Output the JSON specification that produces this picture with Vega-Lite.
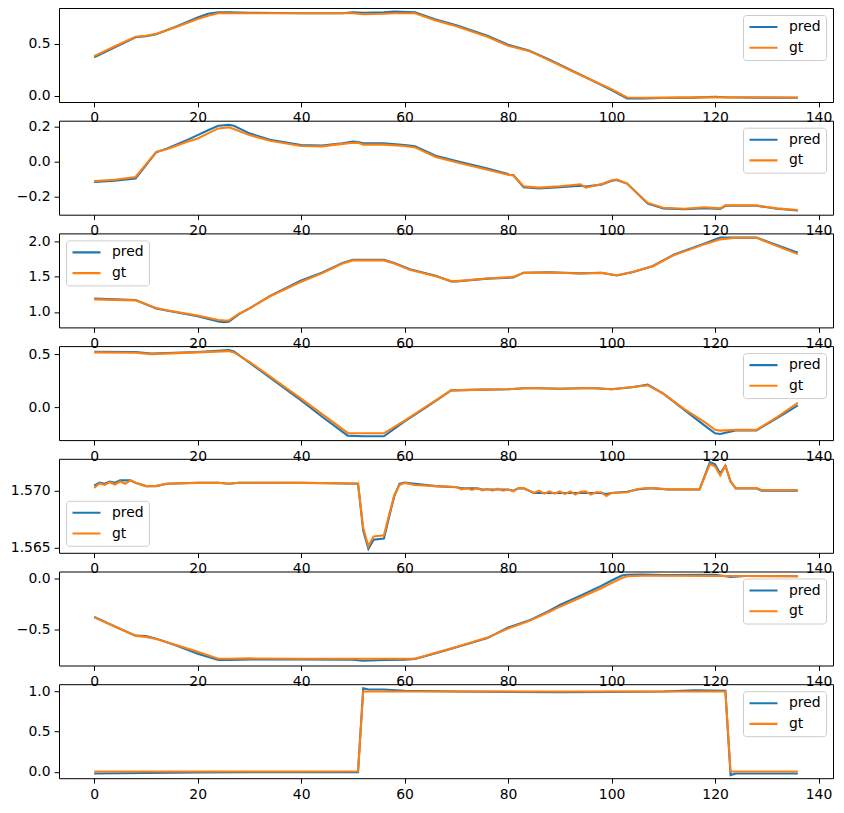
{
"$schema": "https://vega.github.io/schema/vega-lite/v6.json",
"background": "white",
"padding": {"left": 9, "top": 7, "right": 5, "bottom": 5},
"datasets": {
"p1": [
{"x":0,"pred":0.37,"gt":0.38},{"x":4,"pred":0.465,"gt":0.475},{"x":8,"pred":0.56,"gt":0.565},{"x":10,"pred":0.57,"gt":0.575},{"x":12,"pred":0.59,"gt":0.595},{"x":16,"pred":0.665,"gt":0.66},{"x":20,"pred":0.75,"gt":0.735},{"x":22,"pred":0.785,"gt":0.765},{"x":24,"pred":0.8,"gt":0.79},{"x":26,"pred":0.8,"gt":0.79},{"x":30,"pred":0.795,"gt":0.79},{"x":40,"pred":0.79,"gt":0.79},{"x":48,"pred":0.79,"gt":0.79},{"x":50,"pred":0.8,"gt":0.79},{"x":52,"pred":0.795,"gt":0.78},{"x":56,"pred":0.8,"gt":0.785},{"x":58,"pred":0.805,"gt":0.79},{"x":62,"pred":0.8,"gt":0.79},{"x":66,"pred":0.73,"gt":0.72},{"x":70,"pred":0.675,"gt":0.665},{"x":76,"pred":0.575,"gt":0.565},{"x":80,"pred":0.49,"gt":0.48},{"x":84,"pred":0.435,"gt":0.43},{"x":88,"pred":0.345,"gt":0.34},{"x":92,"pred":0.25,"gt":0.245},{"x":96,"pred":0.155,"gt":0.155},{"x":100,"pred":0.055,"gt":0.065},{"x":103,"pred":-0.025,"gt":-0.015},{"x":106,"pred":-0.025,"gt":-0.018},{"x":110,"pred":-0.02,"gt":-0.016},{"x":116,"pred":-0.016,"gt":-0.014},{"x":120,"pred":-0.008,"gt":-0.012},{"x":122,"pred":-0.013,"gt":-0.014},{"x":128,"pred":-0.016,"gt":-0.015},{"x":136,"pred":-0.018,"gt":-0.015}
],
"p2": [
{"x":0,"pred":-0.114,"gt":-0.109},{"x":4,"pred":-0.108,"gt":-0.102},{"x":8,"pred":-0.095,"gt":-0.086},{"x":12,"pred":0.055,"gt":0.057},{"x":14,"pred":0.075,"gt":0.072},{"x":18,"pred":0.125,"gt":0.114},{"x":20,"pred":0.152,"gt":0.133},{"x":22,"pred":0.18,"gt":0.162},{"x":24,"pred":0.205,"gt":0.19},{"x":26,"pred":0.21,"gt":0.196},{"x":27,"pred":0.205,"gt":0.187},{"x":30,"pred":0.162,"gt":0.152},{"x":34,"pred":0.125,"gt":0.12},{"x":40,"pred":0.095,"gt":0.09},{"x":44,"pred":0.092,"gt":0.088},{"x":48,"pred":0.105,"gt":0.102},{"x":50,"pred":0.115,"gt":0.108},{"x":51,"pred":0.113,"gt":0.108},{"x":52,"pred":0.105,"gt":0.098},{"x":56,"pred":0.105,"gt":0.098},{"x":60,"pred":0.095,"gt":0.09},{"x":62,"pred":0.088,"gt":0.082},{"x":66,"pred":0.035,"gt":0.028},{"x":70,"pred":0.005,"gt":-0.002},{"x":76,"pred":-0.038,"gt":-0.045},{"x":80,"pred":-0.07,"gt":-0.073},{"x":81,"pred":-0.075,"gt":-0.078},{"x":83,"pred":-0.145,"gt":-0.139},{"x":86,"pred":-0.151,"gt":-0.147},{"x":90,"pred":-0.145,"gt":-0.139},{"x":94,"pred":-0.136,"gt":-0.128},{"x":95,"pred":-0.14,"gt":-0.147},{"x":98,"pred":-0.13,"gt":-0.128},{"x":100,"pred":-0.108,"gt":-0.105},{"x":101,"pred":-0.103,"gt":-0.101},{"x":103,"pred":-0.124,"gt":-0.124},{"x":107,"pred":-0.238,"gt":-0.234},{"x":110,"pred":-0.265,"gt":-0.261},{"x":114,"pred":-0.27,"gt":-0.267},{"x":118,"pred":-0.264,"gt":-0.259},{"x":121,"pred":-0.268,"gt":-0.265},{"x":122,"pred":-0.25,"gt":-0.248},{"x":128,"pred":-0.25,"gt":-0.248},{"x":132,"pred":-0.267,"gt":-0.265},{"x":136,"pred":-0.277,"gt":-0.274}
],
"p3": [
{"x":0,"pred":1.19,"gt":1.18},{"x":8,"pred":1.17,"gt":1.165},{"x":12,"pred":1.05,"gt":1.055},{"x":14,"pred":1.02,"gt":1.025},{"x":20,"pred":0.94,"gt":0.95},{"x":24,"pred":0.865,"gt":0.885},{"x":25,"pred":0.855,"gt":0.88},{"x":26,"pred":0.86,"gt":0.878},{"x":28,"pred":0.97,"gt":0.975},{"x":30,"pred":1.05,"gt":1.048},{"x":34,"pred":1.23,"gt":1.224},{"x":40,"pred":1.45,"gt":1.43},{"x":44,"pred":1.56,"gt":1.55},{"x":48,"pred":1.7,"gt":1.69},{"x":50,"pred":1.745,"gt":1.735},{"x":56,"pred":1.745,"gt":1.735},{"x":58,"pred":1.7,"gt":1.69},{"x":61,"pred":1.61,"gt":1.6},{"x":66,"pred":1.515,"gt":1.51},{"x":69,"pred":1.435,"gt":1.44},{"x":70,"pred":1.435,"gt":1.44},{"x":76,"pred":1.475,"gt":1.476},{"x":81,"pred":1.49,"gt":1.5},{"x":83,"pred":1.56,"gt":1.557},{"x":88,"pred":1.565,"gt":1.562},{"x":94,"pred":1.55,"gt":1.548},{"x":98,"pred":1.56,"gt":1.557},{"x":101,"pred":1.52,"gt":1.524},{"x":104,"pred":1.565,"gt":1.57},{"x":108,"pred":1.655,"gt":1.652},{"x":112,"pred":1.815,"gt":1.81},{"x":118,"pred":1.975,"gt":1.967},{"x":121,"pred":2.06,"gt":2.035},{"x":124,"pred":2.06,"gt":2.057},{"x":128,"pred":2.06,"gt":2.057},{"x":136,"pred":1.845,"gt":1.825}
],
"p4": [
{"x":0,"pred":0.522,"gt":0.516},{"x":8,"pred":0.52,"gt":0.513},{"x":11,"pred":0.505,"gt":0.5},{"x":20,"pred":0.52,"gt":0.516},{"x":26,"pred":0.538,"gt":0.528},{"x":27,"pred":0.525,"gt":0.516},{"x":30,"pred":0.42,"gt":0.428},{"x":40,"pred":0.066,"gt":0.082},{"x":44,"pred":-0.085,"gt":-0.06},{"x":49,"pred":-0.264,"gt":-0.239},{"x":52,"pred":-0.27,"gt":-0.242},{"x":56,"pred":-0.27,"gt":-0.242},{"x":60,"pred":-0.13,"gt":-0.123},{"x":64,"pred":-0.005,"gt":0.003},{"x":69,"pred":0.16,"gt":0.16},{"x":75,"pred":0.167,"gt":0.167},{"x":80,"pred":0.17,"gt":0.17},{"x":84,"pred":0.182,"gt":0.182},{"x":90,"pred":0.176,"gt":0.176},{"x":96,"pred":0.182,"gt":0.182},{"x":100,"pred":0.17,"gt":0.17},{"x":104,"pred":0.19,"gt":0.192},{"x":107,"pred":0.214,"gt":0.208},{"x":110,"pred":0.13,"gt":0.129},{"x":114,"pred":-0.02,"gt":-0.013},{"x":118,"pred":-0.17,"gt":-0.138},{"x":120,"pred":-0.242,"gt":-0.21},{"x":121,"pred":-0.248,"gt":-0.217},{"x":124,"pred":-0.215,"gt":-0.21},{"x":128,"pred":-0.215,"gt":-0.21},{"x":132,"pred":-0.1,"gt":-0.091},{"x":136,"pred":0.019,"gt":0.044}
],
"p5": [
{"x":0,"pred":1.57044,"gt":1.57024},{"x":1,"pred":1.5707,"gt":1.57064},{"x":2,"pred":1.5706,"gt":1.5705},{"x":3,"pred":1.5708,"gt":1.57074},{"x":4,"pred":1.5707,"gt":1.57054},{"x":5,"pred":1.5709,"gt":1.5708},{"x":6,"pred":1.5709,"gt":1.5706},{"x":7,"pred":1.5709,"gt":1.5709},{"x":8,"pred":1.5707,"gt":1.5707},{"x":10,"pred":1.5704,"gt":1.5704},{"x":12,"pred":1.5704,"gt":1.57042},{"x":14,"pred":1.5706,"gt":1.5706},{"x":20,"pred":1.5707,"gt":1.57068},{"x":24,"pred":1.5707,"gt":1.5707},{"x":26,"pred":1.5706,"gt":1.5706},{"x":28,"pred":1.5707,"gt":1.5707},{"x":40,"pred":1.5707,"gt":1.57068},{"x":51,"pred":1.5706,"gt":1.57063},{"x":52,"pred":1.5665,"gt":1.56674},{"x":53,"pred":1.5649,"gt":1.56514},{"x":54,"pred":1.5657,"gt":1.566},{"x":56,"pred":1.5658,"gt":1.5661},{"x":57,"pred":1.5677,"gt":1.5679},{"x":58,"pred":1.5695,"gt":1.5696},{"x":59,"pred":1.5706,"gt":1.5705},{"x":60,"pred":1.5707,"gt":1.57068},{"x":62,"pred":1.5706,"gt":1.5705},{"x":66,"pred":1.5704,"gt":1.5704},{"x":70,"pred":1.5703,"gt":1.57032},{"x":71,"pred":1.5702,"gt":1.57011},{"x":72,"pred":1.5702,"gt":1.57023},{"x":73,"pred":1.5702,"gt":1.57006},{"x":74,"pred":1.5702,"gt":1.57023},{"x":75,"pred":1.5701,"gt":1.57003},{"x":76,"pred":1.5701,"gt":1.57017},{"x":77,"pred":1.5701,"gt":1.57},{"x":78,"pred":1.5701,"gt":1.57017},{"x":79,"pred":1.5701,"gt":1.57},{"x":80,"pred":1.5701,"gt":1.5701},{"x":81,"pred":1.57,"gt":1.56994},{"x":82,"pred":1.5702,"gt":1.57023},{"x":83,"pred":1.5702,"gt":1.57023},{"x":85,"pred":1.5698,"gt":1.5698},{"x":86,"pred":1.5698,"gt":1.57},{"x":87,"pred":1.5698,"gt":1.56974},{"x":88,"pred":1.5698,"gt":1.56994},{"x":89,"pred":1.5698,"gt":1.56974},{"x":90,"pred":1.5698,"gt":1.56994},{"x":91,"pred":1.5698,"gt":1.5697},{"x":92,"pred":1.5698,"gt":1.56994},{"x":93,"pred":1.5698,"gt":1.56965},{"x":94,"pred":1.5698,"gt":1.5699},{"x":95,"pred":1.5698,"gt":1.56994},{"x":96,"pred":1.5698,"gt":1.56965},{"x":97,"pred":1.5698,"gt":1.56986},{"x":98,"pred":1.5698,"gt":1.56986},{"x":99,"pred":1.5697,"gt":1.56953},{"x":100,"pred":1.5698,"gt":1.5698},{"x":103,"pred":1.5699,"gt":1.56986},{"x":105,"pred":1.5701,"gt":1.57014},{"x":107,"pred":1.5702,"gt":1.57023},{"x":108,"pred":1.5702,"gt":1.57023},{"x":111,"pred":1.5701,"gt":1.57011},{"x":117,"pred":1.5701,"gt":1.57011},{"x":119,"pred":1.5725,"gt":1.57233},{"x":120,"pred":1.5723,"gt":1.57212},{"x":121,"pred":1.5715,"gt":1.57134},{"x":122,"pred":1.5722,"gt":1.57218},{"x":123,"pred":1.5708,"gt":1.57081},{"x":124,"pred":1.5702,"gt":1.57023},{"x":128,"pred":1.5702,"gt":1.57023},{"x":129,"pred":1.57,"gt":1.57006},{"x":136,"pred":1.57,"gt":1.57006}
],
"p6": [
{"x":0,"pred":-0.375,"gt":-0.38},{"x":4,"pred":-0.47,"gt":-0.47},{"x":8,"pred":-0.56,"gt":-0.563},{"x":10,"pred":-0.565,"gt":-0.573},{"x":12,"pred":-0.59,"gt":-0.593},{"x":16,"pred":-0.66,"gt":-0.656},{"x":20,"pred":-0.74,"gt":-0.72},{"x":24,"pred":-0.8,"gt":-0.788},{"x":26,"pred":-0.8,"gt":-0.788},{"x":30,"pred":-0.795,"gt":-0.785},{"x":40,"pred":-0.795,"gt":-0.788},{"x":50,"pred":-0.798,"gt":-0.788},{"x":52,"pred":-0.808,"gt":-0.788},{"x":56,"pred":-0.8,"gt":-0.788},{"x":60,"pred":-0.797,"gt":-0.788},{"x":62,"pred":-0.79,"gt":-0.788},{"x":66,"pred":-0.735,"gt":-0.73},{"x":70,"pred":-0.675,"gt":-0.672},{"x":76,"pred":-0.585,"gt":-0.58},{"x":80,"pred":-0.48,"gt":-0.49},{"x":84,"pred":-0.412,"gt":-0.417},{"x":88,"pred":-0.315,"gt":-0.325},{"x":90,"pred":-0.258,"gt":-0.275},{"x":94,"pred":-0.166,"gt":-0.185},{"x":98,"pred":-0.07,"gt":-0.093},{"x":100,"pred":-0.017,"gt":-0.043},{"x":102,"pred":0.033,"gt":0.007},{"x":103,"pred":0.04,"gt":0.026},{"x":106,"pred":0.043,"gt":0.03},{"x":110,"pred":0.036,"gt":0.03},{"x":120,"pred":0.04,"gt":0.028},{"x":123,"pred":0.017,"gt":0.028},{"x":126,"pred":0.028,"gt":0.027},{"x":136,"pred":0.026,"gt":0.026}
],
"p7": [
{"x":0,"pred":-0.02,"gt":0.005},{"x":10,"pred":-0.015,"gt":0.005},{"x":20,"pred":-0.008,"gt":0.005},{"x":30,"pred":-0.005,"gt":0.005},{"x":40,"pred":-0.003,"gt":0.005},{"x":51,"pred":-0.003,"gt":0.008},{"x":52,"pred":1.04,"gt":1.0},{"x":53,"pred":1.025,"gt":1.0},{"x":56,"pred":1.025,"gt":1.0},{"x":60,"pred":1.01,"gt":1.0},{"x":70,"pred":1.0,"gt":1.0},{"x":80,"pred":0.995,"gt":1.0},{"x":90,"pred":0.99,"gt":1.0},{"x":100,"pred":0.995,"gt":1.0},{"x":110,"pred":1.0,"gt":1.0},{"x":116,"pred":1.015,"gt":1.0},{"x":122,"pred":1.01,"gt":1.0},{"x":123,"pred":-0.04,"gt":0.005},{"x":124,"pred":-0.02,"gt":0.005},{"x":136,"pred":-0.02,"gt":0.005}
]
},
"spacing": 18.7,
"bounds": "flush",
"resolve": {"scale": {"color": "independent", "x": "independent", "y": "independent"}, "legend": {"color": "independent"}},
"vconcat": [
{"width": 774, "height": 94, "data": {"name": "p1"}, "transform": [{"fold": ["pred", "gt"], "as": ["s", "v"]}],
 "mark": {"type": "line", "strokeWidth": 2.08},
 "encoding": {
  "x": {"field": "x", "type": "quantitative", "scale": {"domain": [-6.8, 142.8], "nice": false, "zero": false}, "axis": {"values": [0,20,40,60,80,100,120,140], "format": "d"}},
  "y": {"field": "v", "type": "quantitative", "scale": {"domain": [-0.058, 0.84], "nice": false, "zero": false}, "axis": {"values": [0, 0.5], "format": ".1f"}},
  "color": {"field": "s", "type": "nominal", "scale": {"domain": ["pred", "gt"], "range": ["#1f77b4", "#ff7f0e"]}, "legend": {"orient": "top-right"}}
 }},
{"width": 774, "height": 94, "data": {"name": "p2"}, "transform": [{"fold": ["pred", "gt"], "as": ["s", "v"]}],
 "mark": {"type": "line", "strokeWidth": 2.08},
 "encoding": {
  "x": {"field": "x", "type": "quantitative", "scale": {"domain": [-6.8, 142.8], "nice": false, "zero": false}, "axis": {"values": [0,20,40,60,80,100,120,140], "format": "d"}},
  "y": {"field": "v", "type": "quantitative", "scale": {"domain": [-0.301, 0.234], "nice": false, "zero": false}, "axis": {"values": [-0.2, 0, 0.2], "format": ".1f"}},
  "color": {"field": "s", "type": "nominal", "scale": {"domain": ["pred", "gt"], "range": ["#1f77b4", "#ff7f0e"]}, "legend": {"orient": "top-right"}}
 }},
{"width": 774, "height": 94, "data": {"name": "p3"}, "transform": [{"fold": ["pred", "gt"], "as": ["s", "v"]}],
 "mark": {"type": "line", "strokeWidth": 2.08},
 "encoding": {
  "x": {"field": "x", "type": "quantitative", "scale": {"domain": [-6.8, 142.8], "nice": false, "zero": false}, "axis": {"values": [0,20,40,60,80,100,120,140], "format": "d"}},
  "y": {"field": "v", "type": "quantitative", "scale": {"domain": [0.78, 2.12], "nice": false, "zero": false}, "axis": {"values": [1.0, 1.5, 2.0], "format": ".1f"}},
  "color": {"field": "s", "type": "nominal", "scale": {"domain": ["pred", "gt"], "range": ["#1f77b4", "#ff7f0e"]}, "legend": {"orient": "top-left"}}
 }},
{"width": 774, "height": 94, "data": {"name": "p4"}, "transform": [{"fold": ["pred", "gt"], "as": ["s", "v"]}],
 "mark": {"type": "line", "strokeWidth": 2.08},
 "encoding": {
  "x": {"field": "x", "type": "quantitative", "scale": {"domain": [-6.8, 142.8], "nice": false, "zero": false}, "axis": {"values": [0,20,40,60,80,100,120,140], "format": "d"}},
  "y": {"field": "v", "type": "quantitative", "scale": {"domain": [-0.306, 0.575], "nice": false, "zero": false}, "axis": {"values": [0, 0.5], "format": ".1f"}},
  "color": {"field": "s", "type": "nominal", "scale": {"domain": ["pred", "gt"], "range": ["#1f77b4", "#ff7f0e"]}, "legend": {"orient": "top-right"}}
 }},
{"width": 774, "height": 94, "data": {"name": "p5"}, "transform": [{"fold": ["pred", "gt"], "as": ["s", "v"]}],
 "mark": {"type": "line", "strokeWidth": 2.08},
 "encoding": {
  "x": {"field": "x", "type": "quantitative", "scale": {"domain": [-6.8, 142.8], "nice": false, "zero": false}, "axis": {"values": [0,20,40,60,80,100,120,140], "format": "d"}},
  "y": {"field": "v", "type": "quantitative", "scale": {"domain": [1.56456, 1.57279], "nice": false, "zero": false}, "axis": {"values": [1.565, 1.57], "format": ".3f"}},
  "color": {"field": "s", "type": "nominal", "scale": {"domain": ["pred", "gt"], "range": ["#1f77b4", "#ff7f0e"]}, "legend": {"orient": "bottom-left"}}
 }},
{"width": 774, "height": 94, "data": {"name": "p6"}, "transform": [{"fold": ["pred", "gt"], "as": ["s", "v"]}],
 "mark": {"type": "line", "strokeWidth": 2.08},
 "encoding": {
  "x": {"field": "x", "type": "quantitative", "scale": {"domain": [-6.8, 142.8], "nice": false, "zero": false}, "axis": {"values": [0,20,40,60,80,100,120,140], "format": "d"}},
  "y": {"field": "v", "type": "quantitative", "scale": {"domain": [-0.855, 0.072], "nice": false, "zero": false}, "axis": {"values": [-0.5, 0], "format": ".1f"}},
  "color": {"field": "s", "type": "nominal", "scale": {"domain": ["pred", "gt"], "range": ["#1f77b4", "#ff7f0e"]}, "legend": {"orient": "top-right"}}
 }},
{"width": 774, "height": 94, "data": {"name": "p7"}, "transform": [{"fold": ["pred", "gt"], "as": ["s", "v"]}],
 "mark": {"type": "line", "strokeWidth": 2.08},
 "encoding": {
  "x": {"field": "x", "type": "quantitative", "scale": {"domain": [-6.8, 142.8], "nice": false, "zero": false}, "axis": {"values": [0,20,40,60,80,100,120,140], "format": "d"}},
  "y": {"field": "v", "type": "quantitative", "scale": {"domain": [-0.079, 1.091], "nice": false, "zero": false}, "axis": {"values": [0, 0.5, 1.0], "format": ".1f"}},
  "color": {"field": "s", "type": "nominal", "scale": {"domain": ["pred", "gt"], "range": ["#1f77b4", "#ff7f0e"]}, "legend": {"orient": "top-right"}}
 }}
],
"config": {
 "font": "DejaVu Sans",
 "view": {"stroke": "black", "strokeWidth": 1},
 "axis": {"title": null, "grid": false, "domain": false, "ticks": true, "tickColor": "black", "tickSize": 4.9, "tickWidth": 1, "labelColor": "black", "labelFont": "DejaVu Sans", "labelFontSize": 13.9, "labelPadding": 4, "labelOverlap": false, "labelFlush": false, "labelBound": false},
 "legend": {"title": null, "offset": 7, "padding": 5, "strokeColor": "#cccccc", "fillColor": "rgba(255,255,255,0.8)", "cornerRadius": 3, "labelFont": "DejaVu Sans", "labelFontSize": 13.9, "labelColor": "black", "symbolType": "stroke", "symbolSize": 784, "symbolStrokeWidth": 2.08, "clipHeight": 14, "rowPadding": 6.7, "labelOffset": 10}
}
}
